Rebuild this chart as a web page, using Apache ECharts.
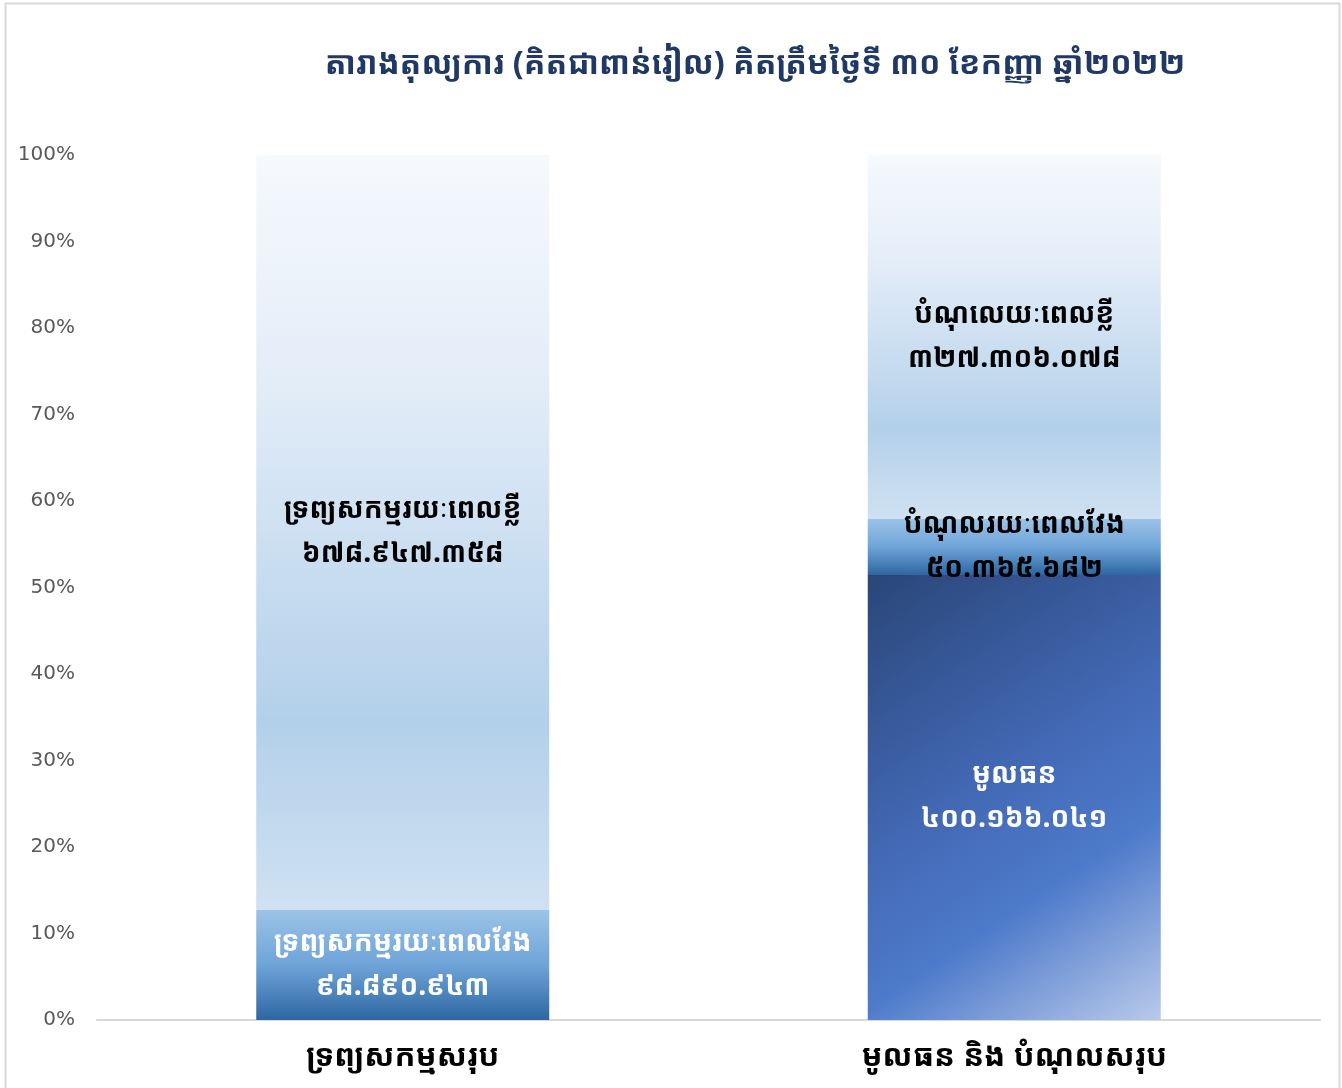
<!DOCTYPE html>
<html>
<head>
<meta charset="utf-8">
<script src="https://cdn.jsdelivr.net/npm/echarts@6/dist/echarts.min.js"></script>
<style>
html,body{margin:0;padding:0;background:#fff;}
#chart{width:1342px;height:1088px;}
</style>
</head>
<body>
<div id="chart"></div>
<script>
// ---- data ----
const titleText = 'តារាងតុល្យការ (គិតជាពាន់រៀល) គិតត្រឹមថ្ងៃទី ៣០ ខែកញ្ញា ឆ្នាំ២០២២';
const categories = ['ទ្រព្យសកម្មសរុប', 'មូលធន និង បំណុលសរុប'];
const seriesNames = ['ទ្រព្យសកម្មរយៈពេលវែង', 'ទ្រព្យសកម្មរយៈពេលខ្លី', 'មូលធន', 'បំណុលរយៈពេលវែង', 'បំណុលេយៈពេលខ្លី'];
const longTermAssets = [98890943, null];
const shortTermAssets = [678947358, null];
const equity = [null, 400166041];
const longTermLiabilities = [null, 50365682];
const shortTermLiabilities = [null, 327306078];
const yTicks = [0, 10, 20, 30, 40, 50, 60, 70, 80, 90, 100];

// ---- helpers ----
const rawSeries = [longTermAssets, shortTermAssets, equity, longTermLiabilities, shortTermLiabilities];
const totals = categories.map((c, i) => rawSeries.reduce((s, arr) => s + (arr[i] || 0), 0));
const khDigits = '០១២៣៤៥៦៧៨៩';
function khNum(v) {
  const s = String(v).replace(/\B(?=(\d{3})+(?!\d))/g, '.');
  return s.replace(/\d/g, d => khDigits[+d]);
}
const KH_FONT = "'Noto Sans Khmer','Khmer OS','Noto Sans',sans-serif";

const G = echarts.graphic.LinearGradient;
const lightGrad = new G(0, 0, 0, 1, [
  {offset: 0, color: '#f6f9fd'},
  {offset: 0.3, color: '#e3edf8'},
  {offset: 0.75, color: '#b3d0ea'},
  {offset: 1, color: '#cfe1f2'}
]);
const midGrad = new G(0, 0, 0, 1, [
  {offset: 0, color: '#9cc3e7'},
  {offset: 0.5, color: '#6ea4d8'},
  {offset: 1, color: '#2d66a2'}
]);
const darkGrad = new G(0, 0, 1, 1, [
  {offset: 0, color: '#2a4679'},
  {offset: 0.45, color: '#4369b5'},
  {offset: 0.68, color: '#4d7aca'},
  {offset: 1, color: '#b9caea'}
]);
const fills = [midGrad, lightGrad, darkGrad, midGrad, lightGrad];
const labelColors = ['#ffffff', '#000000', '#ffffff', '#000000', '#000000'];

const series = rawSeries.map((arr, k) => ({
  name: seriesNames[k],
  type: 'bar',
  stack: 'total',
  barWidth: 293,
  itemStyle: {color: fills[k]},
  label: {
    show: true,
    position: 'inside',
    color: labelColors[k],
    fontFamily: KH_FONT,
    fontSize: 28,
    fontWeight: 'bold',
    lineHeight: 44,
    formatter: p => seriesNames[k] + '\n' + khNum(arr[p.dataIndex])
  },
  data: arr.map((v, i) => v == null ? null : v / totals[i] * 100)
}));

const chart = echarts.init(document.getElementById('chart'));
chart.setOption({
  animation: false,
  backgroundColor: '#fff',
  title: {
    text: titleText,
    left: 750,
    textAlign: 'center',
    top: 44,
    textStyle: {color: '#1f3864', fontFamily: KH_FONT, fontSize: 32, fontWeight: 'bold'}
  },
  graphic: [{
    type: 'rect',
    shape: {x: 5.5, y: 3.5, width: 1334, height: 1090},
    style: {fill: 'none', stroke: '#d9d9d9', lineWidth: 2},
    silent: true
  }],
  grid: {left: 97, right: 22, top: 155, bottom: 68},
  xAxis: {
    type: 'category',
    data: categories,
    axisTick: {show: false},
    axisLine: {lineStyle: {color: '#d9d9d9', width: 2}},
    axisLabel: {color: '#000', fontFamily: KH_FONT, fontSize: 31, fontWeight: 'bold', margin: 22}
  },
  yAxis: {
    type: 'value',
    min: yTicks[0],
    max: yTicks[yTicks.length - 1],
    interval: 10,
    splitLine: {show: false},
    axisLine: {show: false},
    axisTick: {show: false},
    axisLabel: {color: '#595959', fontFamily: "'DejaVu Sans','Noto Sans',sans-serif", fontSize: 20, formatter: '{value}%', margin: 22}
  },
  series: series
});
</script>
</body>
</html>
